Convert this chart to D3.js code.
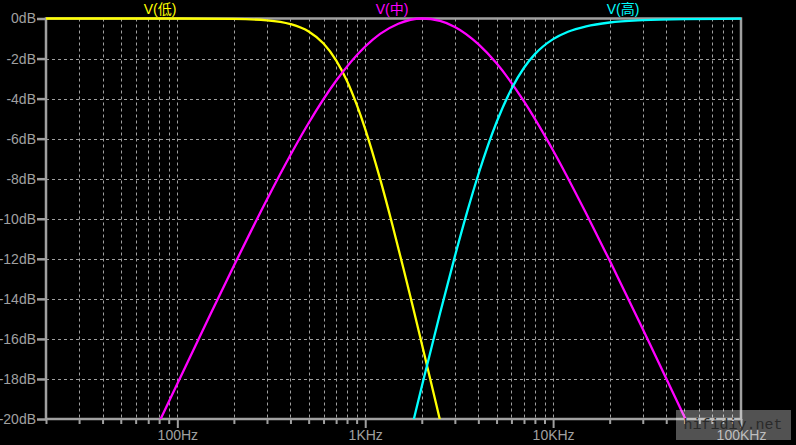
<!DOCTYPE html>
<html><head><meta charset="utf-8">
<script src="https://cdn.jsdelivr.net/npm/d3@7"></script>
<style>html,body{margin:0;padding:0;background:#000;}svg{display:block;}</style>
</head><body>
<script>
// ---- data ----
const freqLow = [20, 100, 200, 300, 400, 500, 600, 700, 800, 900, 1000, 1200, 1400, 1600, 1800, 2000, 2200, 2400, 2550];
const dbLow   = [0, 0, -0.02, -0.09, -0.28, -0.65, -1.25, -2.09, -3.12, -4.29, -5.52, -8.01, -10.36, -12.51, -14.46, -16.24, -17.86, -19.35, -20.4];

const freqMid = [80, 100, 150, 200, 300, 400, 500, 700, 1000, 1200, 1500, 2000, 2500, 3000, 4000, 5000, 7000, 10000, 15000, 20000, 30000, 40000, 52000];
const dbMid   = [-20.16, -18.24, -14.77, -12.35, -9.04, -6.82, -5.22, -3.11, -1.40, -0.77, -0.26, 0, -0.12, -0.42, -1.28, -2.24, -4.14, -6.59, -9.74, -12.09, -15.51, -17.98, -20.23];

const freqHigh = [1800, 2000, 2500, 3000, 3500, 4000, 5000, 6000, 7000, 8000, 10000, 12000, 15000, 20000, 30000, 50000, 100000];
const dbHigh   = [-20.14, -18.38, -14.73, -11.88, -9.61, -7.79, -5.18, -3.52, -2.46, -1.78, -1.03, -0.66, -0.39, -0.20, -0.085, -0.03, -0.01];

const seriesNames = ["V(低)", "V(中)", "V(高)"];
const seriesColors = ["#ffff00", "#ff00ff", "#00ffff"];

const yTicks = [0, -2, -4, -6, -8, -10, -12, -14, -16, -18, -20];
const xMajor = [100, 1000, 10000, 100000];
const xMajorLabels = ["100Hz", "1KHz", "10KHz", "100KHz"];
const watermark = "hifidiy.net";

// ---- layout ----
const W = 796, H = 445;
const L = 46, R = 741, T = 18.5, B = 419;
const GRAY = "#a0a0a0";

const x = d3.scaleLog().domain([20, 100000]).range([L, R]);
const y = d3.scaleLinear().domain([-20, 0]).range([B, T]);

const xTicks = [];
[10, 100, 1000, 10000].forEach(d => { for (let m = 1; m <= 9; m++) { const v = m * d; if (v >= 20 && v <= 100000) xTicks.push(v); } });
xTicks.push(100000);

const svg = d3.select("body").append("svg").attr("width", W).attr("height", H);
svg.append("rect").attr("width", W).attr("height", H).attr("fill", "#000");

// grid
const grid = svg.append("g").attr("stroke", GRAY).attr("stroke-width", 1).attr("stroke-dasharray", "3,3");
grid.selectAll("line.v").data(xTicks.filter(v => v > 20 && v < 100000)).join("line")
  .attr("x1", d => Math.round(x(d)) + 0.5).attr("x2", d => Math.round(x(d)) + 0.5)
  .attr("y1", T).attr("y2", B);
grid.selectAll("line.h").data(yTicks.filter(v => v < 0 && v > -20)).join("line")
  .attr("y1", d => Math.round(y(d)) + 0.5).attr("y2", d => Math.round(y(d)) + 0.5)
  .attr("x1", L).attr("x2", R);

// axes
const font = "'Liberation Sans', 'DejaVu Sans', sans-serif";
const xAxis = svg.append("g").attr("transform", `translate(0,${B})`)
  .call(d3.axisBottom(x).tickValues(xTicks).tickSizeOuter(0)
    .tickFormat(v => { const i = xMajor.indexOf(v); return i >= 0 ? xMajorLabels[i] : ""; }));
xAxis.select(".domain").remove();
xAxis.selectAll(".tick line").attr("stroke", GRAY).attr("stroke-width", 2)
  .attr("y2", d => xMajor.includes(d) ? 9 : 5);
xAxis.selectAll(".tick text").attr("fill", GRAY).attr("font-size", 14).attr("font-family", font)
  .attr("y", 21).attr("dy", null);

const yAxis = svg.append("g").attr("transform", `translate(${L},0)`)
  .call(d3.axisLeft(y).tickValues(yTicks).tickSize(9).tickPadding(1).tickSizeOuter(0)
    .tickFormat(d => d + "dB"));
yAxis.select(".domain").remove();
yAxis.selectAll(".tick line").attr("stroke", GRAY).attr("stroke-width", 2.5);
yAxis.selectAll(".tick text").attr("fill", GRAY).attr("font-size", 14).attr("font-family", font);

// frame
svg.append("rect").attr("x", L).attr("y", T).attr("width", R - L).attr("height", B - T)
  .attr("fill", "none").attr("stroke", GRAY).attr("stroke-width", 2.5);

// curves
svg.append("clipPath").attr("id", "clip").append("rect")
  .attr("x", L - 1).attr("y", T - 2).attr("width", R - L + 2).attr("height", B - T + 2);
const line = d3.line().x(d => x(d[0])).y(d => y(d[1])).curve(d3.curveMonotoneX);
const series = [d3.zip(freqLow, dbLow), d3.zip(freqMid, dbMid), d3.zip(freqHigh, dbHigh)];
svg.append("g").attr("clip-path", "url(#clip)").selectAll("path").data(series).join("path")
  .attr("d", line).attr("fill", "none")
  .attr("stroke", (d, i) => seriesColors[i]).attr("stroke-width", 2.3).attr("stroke-linejoin", "round");

// trace titles
const titleX = [160, 392, 623];
svg.selectAll("text.title").data(seriesNames).join("text")
  .attr("x", (d, i) => titleX[i]).attr("y", 14).attr("text-anchor", "middle")
  .attr("fill", (d, i) => seriesColors[i]).attr("font-size", 14)
  .attr("font-family", "'Liberation Sans', 'Noto Sans CJK SC', sans-serif")
  .text(d => d);

// watermark
svg.append("rect").attr("x", 676).attr("y", 410).attr("width", 115).attr("height", 30)
  .attr("fill", "rgba(255,255,255,0.32)");
svg.append("text").attr("x", 733).attr("y", 429).attr("text-anchor", "middle")
  .attr("font-family", "'Liberation Mono', 'DejaVu Sans Mono', monospace").attr("font-size", 15)
  .attr("fill", "#2a2a2a").text(watermark);
</script>
</body></html>
